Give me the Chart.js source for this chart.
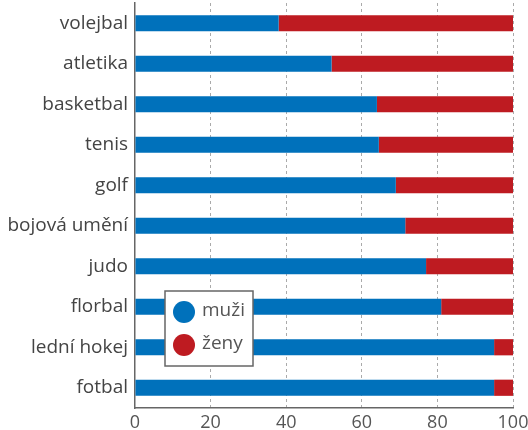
<!DOCTYPE html>
<html>
<head>
<meta charset="utf-8">
<script src="https://cdn.jsdelivr.net/npm/chart.js@4"></script>
<style>
  html, body { margin: 0; padding: 0; background: #fff; }
  #wrap { width: 528px; height: 430px; }
</style>
</head>
<body>
<div id="wrap"><canvas id="chart" width="528" height="430"></canvas></div>
<script>
var sports = ['volejbal', 'atletika', 'basketbal', 'tenis', 'golf', 'bojová umění', 'judo', 'florbal', 'lední hokej', 'fotbal'];
var muzi = [38, 52, 64, 64.5, 69, 71.5, 77, 81, 95, 95];
var zeny = [62, 48, 36, 35.5, 31, 28.5, 23, 19, 5, 5];
var xTicks = [0, 20, 40, 60, 80, 100];

var FONT = '"Open Sans", sans-serif';

// legend box drawn inside the plot, like the original
var boxLegend = {
    id: 'boxLegend',
    afterDraw: function (chart) {
        var ctx = chart.ctx;
        var x = 165, y = 291, w = 88, h = 75;
        ctx.save();
        ctx.fillStyle = '#fff';
        ctx.fillRect(x, y, w, h);
        ctx.strokeStyle = '#666';
        ctx.lineWidth = 1.5;
        ctx.strokeRect(x, y, w, h);
        ctx.font = '19px ' + FONT;
        ctx.textBaseline = 'middle';
        chart.data.datasets.forEach(function (ds, i) {
            var cy = y + 21 + i * 33;
            ctx.beginPath();
            ctx.arc(x + 19, cy, 11, 0, Math.PI * 2);
            ctx.fillStyle = ds.backgroundColor;
            ctx.fill();
            ctx.fillStyle = '#555';
            ctx.fillText(ds.label, x + 37, cy - 1);
        });
        ctx.restore();
    }
};

new Chart(document.getElementById('chart').getContext('2d'), {
    type: 'bar',
    data: {
        labels: sports,
        datasets: [
            {
                label: 'muži',
                data: muzi,
                backgroundColor: '#0071bb',
                barPercentage: 0.4,
                categoryPercentage: 1
            },
            {
                label: 'ženy',
                data: zeny,
                backgroundColor: '#be1b21',
                barPercentage: 0.4,
                categoryPercentage: 1
            }
        ]
    },
    options: {
        indexAxis: 'y',
        responsive: false,
        animation: false,
        layout: { padding: { top: 3, right: 0, left: 0, bottom: 0 } },
        plugins: {
            legend: { display: false },
            tooltip: { enabled: false }
        },
        scales: {
            x: {
                stacked: true,
                min: 0,
                max: 100,
                afterBuildTicks: function (scale) {
                    scale.ticks = xTicks.map(function (v) { return { value: v }; });
                },
                afterFit: function (scale) {
                    scale.height = 22;
                    scale.paddingRight = 15;
                    scale.paddingLeft = 0;
                },
                grid: {
                    drawTicks: false,
                    color: function (c) { return c.tick && c.tick.value === 0 ? 'rgba(0,0,0,0)' : '#aaa'; },
                    lineWidth: 1
                },
                border: { display: true, color: '#666', width: 1.5, dash: [3, 3] },
                ticks: {
                    padding: 4,
                    color: '#555',
                    font: { family: FONT, size: 18 }
                }
            },
            y: {
                stacked: true,
                afterFit: function (scale) {
                    scale.width = 135;
                    scale.paddingTop = 0;
                    scale.paddingBottom = 0;
                },
                grid: { display: false, drawTicks: false },
                border: { display: true, color: '#666', width: 1.5 },
                ticks: {
                    padding: 7,
                    color: '#444',
                    font: { family: FONT, size: 19 }
                }
            }
        }
    },
    plugins: [boxLegend]
});
</script>
</body>
</html>
